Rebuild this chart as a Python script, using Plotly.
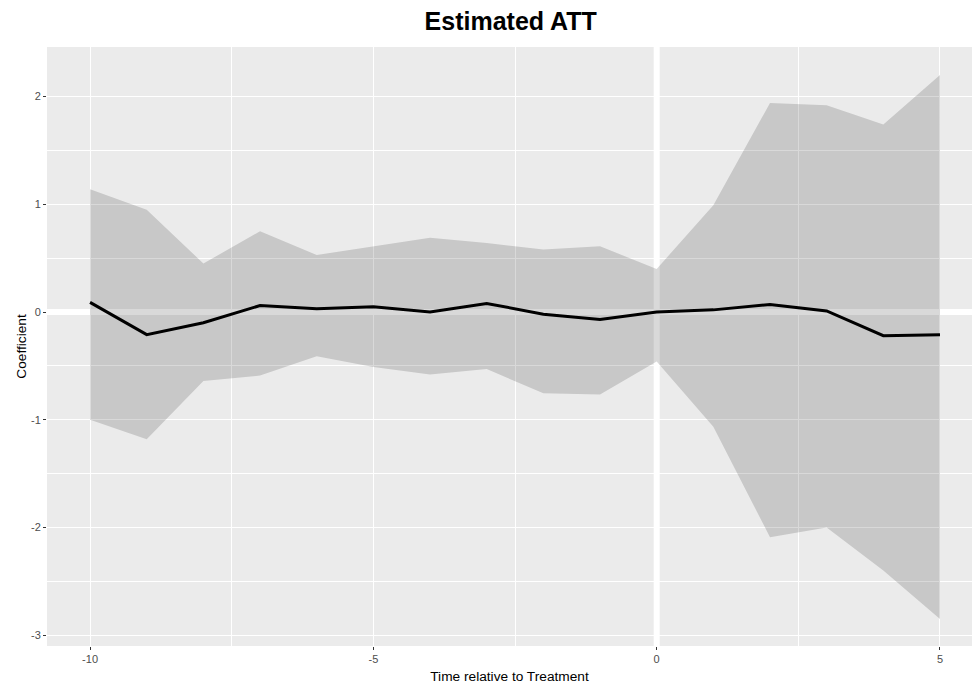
import plotly.graph_objects as go

time = [-10, -9, -8, -7, -6, -5, -4, -3, -2, -1, 0, 1, 2, 3, 4, 5]
coef = [0.09, -0.21, -0.10, 0.06, 0.03, 0.05, 0.0, 0.08, -0.02, -0.07, 0.0, 0.02, 0.07, 0.01, -0.22, -0.21]
upper = [1.14, 0.95, 0.45, 0.75, 0.53, 0.61, 0.69, 0.64, 0.58, 0.61, 0.40, 0.99, 1.94, 1.92, 1.74, 2.20]
lower = [-1.00, -1.18, -0.64, -0.59, -0.41, -0.51, -0.58, -0.53, -0.755, -0.765, -0.46, -1.065, -2.09, -2.00, -2.40, -2.85]

x_ticks = [-10, -5, 0, 5]
y_ticks = [-3, -2, -1, 0, 1, 2]

fig = go.Figure()
fig.add_trace(go.Scatter(x=time, y=upper, mode="lines", line=dict(width=0), hoverinfo="skip", showlegend=False))
fig.add_trace(go.Scatter(x=time, y=lower, mode="lines", line=dict(width=0), fill="tonexty",
                         fillcolor="rgba(0,0,0,0.15)", hoverinfo="skip", showlegend=False))
fig.add_trace(go.Scatter(x=time, y=coef, mode="lines", line=dict(color="black", width=3), showlegend=False))

fig.add_shape(type="line", xref="x", yref="paper", x0=0, x1=0, y0=0, y1=1,
              line=dict(color="white", width=6), layer="below")
fig.add_shape(type="line", xref="paper", yref="y", x0=0, x1=1, y0=0, y1=0,
              line=dict(color="white", width=6), layer="below")

axis_common = dict(
    showgrid=True, gridcolor="white", gridwidth=1.3,
    zeroline=False, showline=False, automargin=False,
    ticks="outside", ticklen=3, tickwidth=1, tickcolor="#333333",
    tickfont=dict(family="Liberation Sans, Arial", size=11, color="#4D4D4D"),
)

fig.update_xaxes(
    range=[-10.76, 5.565], tickvals=x_ticks, ticktext=[str(v) for v in x_ticks],
    minor=dict(tickvals=[-7.5, -2.5, 2.5], showgrid=True, gridcolor="white", gridwidth=0.8, ticks=""),
    title=dict(text="Time relative to Treatment", font=dict(family="Liberation Sans, Arial", size=13.7, color="black"), standoff=7),
    **axis_common,
)
fig.update_yaxes(
    range=[-3.10, 2.46], tickvals=y_ticks, ticktext=[str(v) for v in y_ticks],
    minor=dict(tickvals=[-2.5, -1.5, -0.5, 0.5, 1.5], showgrid=True, gridcolor="white", gridwidth=0.8, ticks=""),
    title=dict(text="Coefficient", font=dict(family="Liberation Sans, Arial", size=13.7, color="black"), standoff=1),
    **axis_common,
)

fig.update_layout(
    width=964, height=682,
    paper_bgcolor="white", plot_bgcolor="#EBEBEB",
    margin=dict(l=39, r=0, t=39, b=44),
    title=dict(text="<b>Estimated ATT</b>", x=0.5215, xanchor="center", y=0.981, yanchor="middle",
               font=dict(family="Liberation Sans, Arial", size=25, color="black")),
    showlegend=False,
)

fig.write_html("out.html")
